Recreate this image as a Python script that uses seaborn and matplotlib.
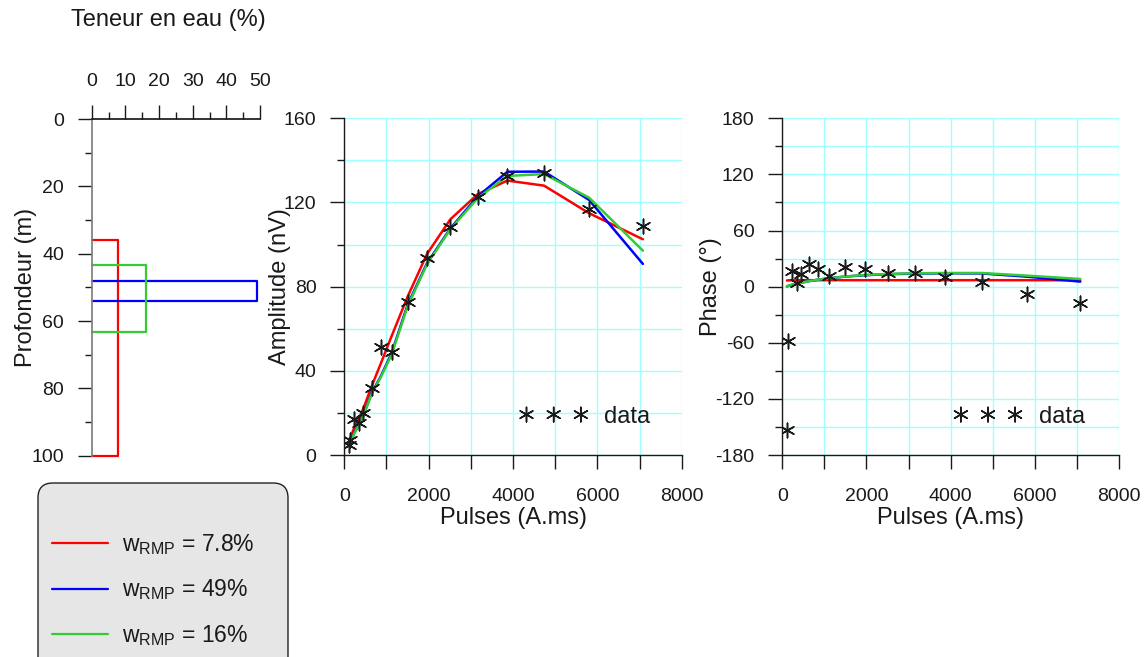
import numpy as np
import pandas as pd
import seaborn as sns
import matplotlib.pyplot as plt
from matplotlib.patches import FancyBboxPatch
from matplotlib.lines import Line2D
from matplotlib.ticker import MultipleLocator

# layers of the water content model
layer_w = [7.8, 49, 16]
layer_top = [36, 48, 43.4]
layer_bot = [100, 54, 63.4]
layer_col = ['#ff0000', '#0000ff', '#33cc33']
layer_lab = [r'$\mathregular{w_{RMP}}$ = 7.8%', r'$\mathregular{w_{RMP}}$ = 49%',
             r'$\mathregular{w_{RMP}}$ = 16%']

# pulse moments (A.ms)
pulses = [110, 140, 230, 345, 455, 645, 860, 1120, 1500, 1960, 2515, 3160, 3866, 4736, 5804, 7080]

# amplitude (nV)
amp_data = [4.8, 7.1, 17.0, 15.4, 19.8, 31.7, 51.5, 48.8, 72.9, 93.5, 108.5, 122.5, 132.6, 134.2, 116.9, 108.8]
amp_red = [6.3, 7.9, 12.7, 17.4, 22.2, 32.5, 43.2, 56.4, 75.2, 95.5, 112.0, 123.9, 130.4, 128.0, 114.9, 102.5]
amp_blue = [4.8, 5.6, 10.3, 14.3, 19.0, 29.3, 37.2, 48.3, 71.3, 91.1, 107.7, 122.8, 134.6, 134.7, 121.2, 90.8]
amp_green = [4.6, 5.5, 10.0, 14.0, 18.6, 28.8, 36.8, 47.6, 70.6, 90.6, 107.3, 122.0, 132.6, 133.5, 122.3, 97.1]

# phase (deg)
ph_data = [-153.2, -57.7, 17.1, 3.6, 13.6, 24.3, 18.6, 11.8, 21.4, 18.6, 14.3, 14.3, 10.7, 5.3, -8.1, -17.8]
ph_red = [6.6, 6.7, 6.8, 6.8, 6.9, 6.9, 6.9, 6.9, 6.9, 6.9, 6.9, 6.9, 6.9, 6.9, 6.9, 6.8]
ph_blue = [0.2, 0.8, 2.0, 3.2, 4.3, 6.0, 7.5, 9.0, 10.8, 12.2, 13.3, 14.0, 14.3, 14.1, 10.7, 5.4]
ph_green = [0.2, 0.8, 2.0, 3.2, 4.3, 6.0, 7.5, 9.0, 10.9, 12.4, 13.6, 14.3, 14.6, 14.6, 11.8, 8.2]

sns.set_theme(style='white')
plt.rcParams['font.family'] = ['Liberation Sans', 'DejaVu Sans']
plt.rcParams['mathtext.fontset'] = 'custom'
plt.rcParams['mathtext.rm'] = 'Liberation Sans'
plt.rcParams['axes.unicode_minus'] = False
for k in ['text.color', 'axes.labelcolor', 'xtick.color', 'ytick.color']:
    plt.rcParams[k] = 'k'

W, H = 1146, 657
fig = plt.figure(figsize=(W / 100, H / 100), dpi=100)
ax1 = fig.add_axes([91.7 / W, 1 - 455.7 / H, 168.3 / W, 336.7 / H])
ax2 = fig.add_axes([344.3 / W, 1 - 455 / H, 337.4 / W, 336.7 / H])
ax3 = fig.add_axes([782.3 / W, 1 - 455 / H, 336.7 / W, 336.7 / H])

grid_c = '#a0ffff'

# profil de teneur en eau
for w, t, b, c in zip(layer_w, layer_top, layer_bot, layer_col):
    sns.lineplot(x=[0, w, w, 0], y=[t, t, b, b], sort=False, estimator=None,
                 color=c, lw=1.6, ax=ax1, clip_on=False)
ax1.set_xlim(0, 50)
ax1.set_ylim(100, 0)
ax1.xaxis.tick_top()
ax1.set_xticks(range(0, 51, 10))
ax1.xaxis.set_minor_locator(MultipleLocator(5))
ax1.set_yticks(range(0, 101, 20))
ax1.yaxis.set_minor_locator(MultipleLocator(10))
ax1.spines['right'].set_visible(False)
ax1.spines['bottom'].set_visible(False)
ax1.spines['left'].set_color('#808080')
ax1.spines['top'].set_color('k')
ax1.tick_params(axis='both', which='major', length=10, width=1, color='k',
                labelsize=14, direction='out', left=True, top=True)
ax1.tick_params(axis='both', which='minor', length=5, width=1, color='k',
                direction='out', left=True, top=True)
ax1.tick_params(axis='x', which='major', pad=11)
ax1.tick_params(axis='y', which='major', pad=10)
ax1.set_ylabel('Profondeur (m)', fontsize=17, labelpad=-4)
fig.text(168 / W, 1 - 20 / H, 'Teneur en eau (%)', fontsize=17, ha='center', va='center')

# amplitude et phase
for ax, model, data, ylim, dx in [
        (ax2, [amp_red, amp_blue, amp_green], amp_data, (0, 160), 4),
        (ax3, [ph_red, ph_blue, ph_green], ph_data, (-180, 180), 7)]:
    for vals, c in zip(model, layer_col):
        sns.lineplot(x=pulses, y=vals, sort=False, estimator=None, color=c, lw=1.8, ax=ax)
    sns.scatterplot(x=pulses, y=data, marker=(6, 2, 0), s=110, color='k',
                    linewidth=1.1, ax=ax, label='data', zorder=5)
    ax.set_xlim(0, 8000)
    ax.set_ylim(*ylim)
    ax.set_xticks(range(0, 8001, 1000))
    ax.set_xticklabels([str(v) if v % 2000 == 0 else '' for v in range(0, 8001, 1000)])
    ax.grid(True, which='both', color=grid_c, lw=1)
    for s in ['top', 'right']:
        ax.spines[s].set_visible(False)
    for s in ['left', 'bottom']:
        ax.spines[s].set_color('k')
        ax.spines[s].set_linewidth(1)
    ax.tick_params(axis='both', which='major', length=10, width=1, color='k',
                   labelsize=14, direction='out', left=True, bottom=True)
    ax.tick_params(axis='y', which='minor', length=5, width=1, color='k',
                   direction='out', left=True)
    ax.tick_params(axis='x', which='major', pad=14)
    ax.tick_params(axis='y', which='major', pad=10)
    ax.set_xlabel('Pulses (A.ms)', fontsize=17, labelpad=1)
    ax.legend(loc='lower right', bbox_to_anchor=(1 - dx / 337, 0), frameon=False,
              scatterpoints=3, scatteryoffsets=[0.5], handlelength=2.9,
              handletextpad=0.7, fontsize=17, borderaxespad=0.75)

ax2.set_yticks(range(0, 161, 40))
ax2.yaxis.set_minor_locator(MultipleLocator(20))
ax2.set_ylabel('Amplitude (nV)', fontsize=17, labelpad=-5)
ax3.set_yticks(range(-180, 181, 60))
ax3.yaxis.set_minor_locator(MultipleLocator(30))
ax3.set_ylabel('Phase (°)', fontsize=17, labelpad=-5)

# cadre de legende
box = FancyBboxPatch((38 / W, -0.05), 250 / W, (1 - 483 / H) + 0.05,
                     boxstyle='round,pad=0,rounding_size=0.013', mutation_aspect=W / H,
                     transform=fig.transFigure, facecolor='#e6e6e6', edgecolor='#222222', lw=1)
fig.add_artist(box)
handles = [Line2D([], [], color=c, lw=1.6) for c in layer_col]
fig.legend(handles, layer_lab, loc='upper left', bbox_to_anchor=(52 / W, 1 - 532 / H),
           frameon=False, fontsize=16.5, handlelength=2.45, handletextpad=0.6,
           labelspacing=0.9, borderpad=0, borderaxespad=0)

fig.savefig('out.png', dpi=100)
